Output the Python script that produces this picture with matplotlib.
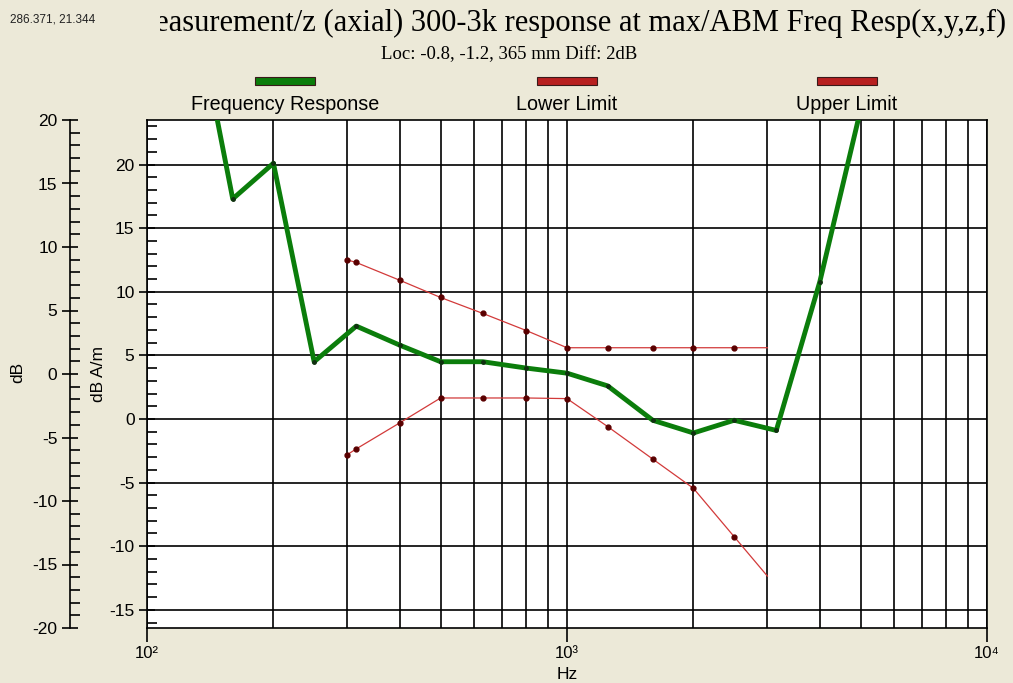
import matplotlib
matplotlib.use("Agg")
import matplotlib.pyplot as plt
from matplotlib.patches import Rectangle
from matplotlib.ticker import MultipleLocator, FixedLocator, NullFormatter

# Data
resp_hz = [125, 160, 200, 250, 315, 400, 500, 630, 800, 1000, 1250, 1600, 2000, 2500, 3150, 4000, 5000]
resp_db = [35.4, 17.3, 20.1, 4.5, 7.3, 5.8, 4.5, 4.5, 4.0, 3.6, 2.6, -0.1, -1.1, -0.1, -0.9, 10.8, 24.3]

limit_hz = [300, 315, 400, 500, 630, 800, 1000, 1250, 1600, 2000, 2500, 3000]
lower_db = [-2.8, -2.35, -0.3, 1.65, 1.65, 1.65, 1.6, -0.6, -3.15, -5.45, -9.25, -12.35]
upper_db = [12.5, 12.3, 10.9, 9.55, 8.3, 6.95, 5.6, 5.6, 5.6, 5.6, 5.6, 5.6]

legend_names = ["Frequency Response", "Lower Limit", "Upper Limit"]

W, H = 1013, 683
BG = "#ECE9D8"
GREEN = "#0b7d0b"
RED = "#d23a3a"
SANS = ["Liberation Sans", "DejaVu Sans"]
SERIF = ["Liberation Serif", "DejaVu Serif"]

plt.rcParams["font.family"] = SANS
plt.rcParams["axes.unicode_minus"] = False

fig = plt.figure(figsize=(W / 100, H / 100), dpi=100, facecolor=BG)


def fx(px):
    return px / W


def fy(py):
    return 1 - py / H


# main plot area
left, right, top, bottom = 147, 987, 120, 628
ax = fig.add_axes([fx(left), fy(bottom), fx(right - left), (bottom - top) / H])
ax.set_facecolor("white")

ax.plot(resp_hz, resp_db, color=GREEN, lw=3.5, marker="o", ms=2.5,
        mfc="#103010", mec="#103010", zorder=4, solid_joinstyle="round")
ax.plot(limit_hz, lower_db, color=RED, lw=0.9, marker="o", ms=3.5,
        mfc="#5a0000", mec="#5a0000", markevery=list(range(len(limit_hz) - 1)), zorder=3)
ax.plot(limit_hz, upper_db, color=RED, lw=0.9, marker="o", ms=3.5,
        mfc="#5a0000", mec="#5a0000", markevery=list(range(len(limit_hz) - 1)), zorder=3)

ax.set_xscale("log")
ax.set_xlim(100, 10000)
ax.set_ylim(-16.43, 23.5)

# grid
ax.xaxis.set_major_locator(FixedLocator([100, 1000, 10000]))
ax.xaxis.set_minor_locator(FixedLocator([200, 300, 400, 500, 600, 700, 800, 900,
                                         2000, 3000, 4000, 5000, 6000, 7000, 8000, 9000]))
ax.xaxis.set_minor_formatter(NullFormatter())
ax.set_xticklabels(["10²", "10³", "10⁴"], fontsize=12)
ax.yaxis.set_major_locator(MultipleLocator(5))
ax.yaxis.set_minor_locator(MultipleLocator(1))
ax.grid(which="major", color="black", lw=1.2, zorder=1)
ax.grid(which="minor", axis="x", color="black", lw=1.2, zorder=1)
ax.set_axisbelow(True)
ax.tick_params(axis="x", which="major", direction="out", length=10, width=1.2, pad=3)
ax.tick_params(axis="x", which="minor", length=0)
ax.tick_params(axis="y", which="major", direction="inout", length=12, width=1.2, labelsize=12.5, pad=3)
ax.tick_params(axis="y", which="minor", direction="in", length=7, width=1.2)
for s in ax.spines.values():
    s.set_color("black")
    s.set_linewidth(1.2)
ax.set_xlabel("Hz", fontsize=12.5, labelpad=4)
ax.set_ylabel("dB A/m", fontsize=12.5, labelpad=2)

# outer dB axis
ax2 = fig.add_axes([fx(70), fy(bottom), 0.0001, (bottom - top) / H])
ax2.patch.set_visible(False)
for k in ["top", "right", "bottom"]:
    ax2.spines[k].set_visible(False)
ax2.spines["left"].set_linewidth(1.2)
ax2.set_ylim(-20, 20)
ax2.set_xticks([])
ax2.yaxis.set_major_locator(MultipleLocator(5))
ax2.yaxis.set_minor_locator(MultipleLocator(1))
ax2.tick_params(axis="y", which="major", direction="inout", length=12, width=1.2, labelsize=12.5, pad=3)
ax2.tick_params(axis="y", which="minor", direction="in", length=7, width=1.2)
fig.text(fx(18), fy(372), "dB", rotation=90, fontsize=12.5, ha="center", va="center")

# title, partly hidden on the left like in the source window
fig.text(fx(1006), fy(23), "Measurement/z (axial) 300-3k response at max/ABM Freq Resp(x,y,z,f)",
         family=SERIF, fontsize=22, ha="right", va="center", zorder=2)
fig.add_artist(Rectangle((0, fy(45)), fx(160), 45 / H, transform=fig.transFigure,
                         facecolor=BG, edgecolor="none", zorder=3))
fig.text(fx(10), fy(20), "286.371, 21.344", fontsize=8.5, ha="left", va="center",
         color="#222222", zorder=4)
fig.text(fx(509), fy(55), "Loc: -0.8, -1.2, 365 mm Diff: 2dB", family=SERIF, fontsize=13.5,
         ha="center", va="center")

# legend
legend_x = [285, 567, 847]
legend_c = [GREEN, "#b82020", "#b82020"]
for name, cx, c in zip(legend_names, legend_x, legend_c):
    fig.add_artist(Rectangle((fx(cx - 30), fy(85)), fx(60), 8 / H, transform=fig.transFigure,
                             facecolor=c, edgecolor="#3a1a1a", lw=0.8))
    fig.text(fx(cx), fy(104), name, fontsize=14.2, ha="center", va="center")

fig.savefig("out.png", dpi=100, facecolor=BG)
